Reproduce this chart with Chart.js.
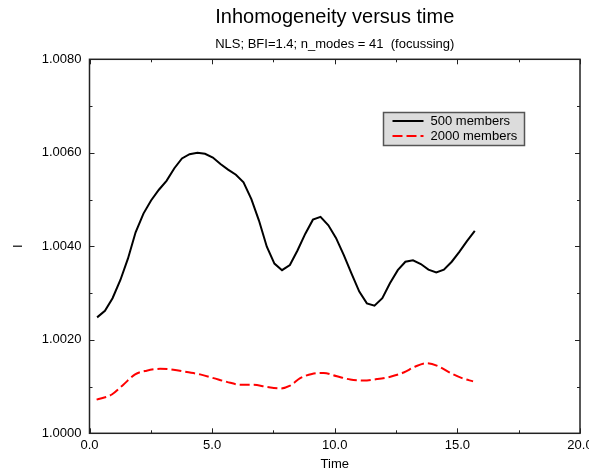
<!DOCTYPE html>
<html>
<head>
<meta charset="utf-8">
<script src="https://cdn.jsdelivr.net/npm/chart.js@4"></script>
<style>
  html, body { margin: 0; padding: 0; background: #fff; }
</style>
</head>
<body>
<canvas id="chart" width="589" height="472"></canvas>
<script>
// chart text
const titleText = 'Inhomogeneity versus time';
const subtitleText = 'NLS; BFI=1.4; n_modes = 41  (focussing)';
const xTitle = 'Time';
const yTitle = 'I';

// 500 members (black solid)
const times500 = [0.31, 0.63, 0.94, 1.26, 1.57, 1.88, 2.20, 2.51, 2.83, 3.14,
  3.46, 3.77, 4.08, 4.40, 4.71, 5.03, 5.34, 5.65, 5.97, 6.28,
  6.60, 6.91, 7.23, 7.54, 7.85, 8.17, 8.48, 8.80, 9.11, 9.42,
  9.74, 10.05, 10.37, 10.68, 11.00, 11.31, 11.62, 11.94, 12.25, 12.57,
  12.88, 13.19, 13.51, 13.82, 14.14, 14.45, 14.77, 15.08, 15.39, 15.71];
const inhom500 = [1.00248, 1.00262, 1.00289, 1.00328, 1.00374, 1.00430, 1.00470, 1.00498, 1.00521, 1.00540,
  1.00567, 1.00588, 1.00597, 1.00600, 1.00598, 1.00590, 1.00576, 1.00564, 1.00553, 1.00537,
  1.00501, 1.00455, 1.00399, 1.00363, 1.00349, 1.00360, 1.00391, 1.00427, 1.00457, 1.00463,
  1.00445, 1.00418, 1.00381, 1.00342, 1.00303, 1.00278, 1.00273, 1.00289, 1.00321, 1.00349,
  1.00367, 1.00370, 1.00362, 1.00350, 1.00344, 1.00350, 1.00367, 1.00388, 1.00411, 1.00433];

// 2000 members (red dashed)
const times2000 = [0.29, 0.91, 1.38, 1.86, 2.33, 2.88, 3.42, 3.97, 4.51, 5.06,
  5.60, 6.14, 6.69, 7.23, 7.78, 8.18, 8.59, 9.07, 9.55, 10.09,
  10.63, 11.18, 11.72, 12.27, 12.81, 13.29, 13.76, 14.24, 14.72, 15.19, 15.64];
const inhom2000 = [1.00072, 1.00083, 1.00104, 1.00126, 1.00134, 1.00138, 1.00136, 1.00131, 1.00126, 1.00118,
  1.00110, 1.00104, 1.00104, 1.00099, 1.00096, 1.00102, 1.00118, 1.00127, 1.00129, 1.00122,
  1.00115, 1.00113, 1.00116, 1.00121, 1.00130, 1.00143, 1.00150, 1.00143, 1.00129, 1.00118, 1.00111];

const seriesNames = ['500 members', '2000 members'];

// axis ranges / ticks
const xMin = 0, xMax = 20, xStep = 2.5, xLabelEvery = 5;
const yMin = 1.0, yMax = 1.008, yStep = 0.001, yLabelEvery = 0.002;

const FONT = '"Liberation Sans", Arial, Helvetica, sans-serif';
const AXIS_COLOR = '#222';

function toPoints(xs, ys) {
  return xs.map((x, i) => ({ x: x, y: ys[i] }));
}

// frame with inward ticks on all four sides, titles and legend box
const framePlugin = {
  id: 'frame',
  afterDraw(chart) {
    const ctx = chart.ctx;
    const a = chart.chartArea;
    const xs = chart.scales.x, ys = chart.scales.y;
    ctx.save();
    ctx.strokeStyle = AXIS_COLOR;
    ctx.lineWidth = 1.5;
    ctx.strokeRect(a.left, a.top, a.right - a.left, a.bottom - a.top);

    ctx.lineWidth = 1;
    ctx.beginPath();
    xs.ticks.forEach(t => {
      const px = Math.round(xs.getPixelForValue(t.value)) + 0.5;
      const len = t.label ? 5 : 3;
      ctx.moveTo(px, a.bottom); ctx.lineTo(px, a.bottom - len);
      ctx.moveTo(px, a.top); ctx.lineTo(px, a.top + len);
    });
    ys.ticks.forEach(t => {
      const py = Math.round(ys.getPixelForValue(t.value)) + 0.5;
      const len = t.label ? 5 : 3;
      ctx.moveTo(a.left, py); ctx.lineTo(a.left + len, py);
      ctx.moveTo(a.right, py); ctx.lineTo(a.right - len, py);
    });
    ctx.stroke();

    // titles
    ctx.fillStyle = '#000';
    ctx.textAlign = 'center';
    ctx.textBaseline = 'middle';
    const cx = (a.left + a.right) / 2;
    ctx.font = '20px ' + FONT;
    ctx.fillText(titleText, cx, 17);
    ctx.font = '13px ' + FONT;
    ctx.fillText(subtitleText, cx, 44);

    // legend
    const lx = 383.5, ly = 112.5, lw = 141, lh = 33;
    ctx.fillStyle = '#dcdcdc';
    ctx.fillRect(lx, ly, lw, lh);
    ctx.strokeStyle = '#555';
    ctx.lineWidth = 1.5;
    ctx.strokeRect(lx, ly, lw, lh);
    chart.data.datasets.forEach((ds, i) => {
      const yy = ly + 8.5 + i * 15;
      ctx.strokeStyle = ds.borderColor;
      ctx.lineWidth = 2;
      ctx.setLineDash(ds.borderDash || []);
      ctx.beginPath();
      ctx.moveTo(lx + 9, yy);
      ctx.lineTo(lx + 40, yy);
      ctx.stroke();
      ctx.setLineDash([]);
      ctx.fillStyle = '#000';
      ctx.textAlign = 'left';
      ctx.font = '13px ' + FONT;
      ctx.fillText(ds.label, lx + 47, yy);
    });
    ctx.restore();
  }
};

const config = {
  type: 'line',
  data: {
    datasets: [{
      label: seriesNames[0],
      data: toPoints(times500, inhom500),
      borderColor: '#000',
      borderWidth: 2,
      pointRadius: 0,
      tension: 0,
      fill: false
    }, {
      label: seriesNames[1],
      data: toPoints(times2000, inhom2000),
      borderColor: '#ff0000',
      borderWidth: 2,
      borderDash: [10, 4],
      pointRadius: 0,
      cubicInterpolationMode: 'monotone',
      fill: false
    }]
  },
  options: {
    responsive: false,
    animation: false,
    layout: { padding: { left: 0, right: 9, top: 59.3, bottom: 0 } },
    plugins: {
      legend: { display: false },
      title: { display: false },
      tooltip: { enabled: false }
    },
    scales: {
      x: {
        type: 'linear',
        min: xMin, max: xMax,
        grid: { display: false, drawTicks: false },
        border: { display: false },
        ticks: {
          stepSize: xStep,
          autoSkip: false,
          maxRotation: 0,
          padding: 4,
          color: '#000',
          font: { family: FONT, size: 13 },
          callback: v => (Math.abs(v / xLabelEvery - Math.round(v / xLabelEvery)) < 1e-6 ? v.toFixed(1) : '')
        },
        title: {
          display: true,
          text: xTitle,
          color: '#000',
          font: { family: FONT, size: 13 },
          padding: { top: 2, bottom: 0 }
        },
        afterFit: s => { s.height = 38.7; s.paddingLeft = 0; s.paddingRight = 0; }
      },
      y: {
        type: 'linear',
        min: yMin, max: yMax,
        grid: { display: false, drawTicks: false },
        border: { display: false },
        ticks: {
          stepSize: yStep,
          autoSkip: false,
          padding: 8,
          color: '#000',
          font: { family: FONT, size: 13 },
          callback: v => {
            const k = (v - yMin) / yLabelEvery;
            return Math.abs(k - Math.round(k)) < 1e-6 ? v.toFixed(4) : '';
          }
        },
        title: {
          display: true,
          text: yTitle,
          color: '#000',
          font: { family: FONT, size: 13 },
          padding: { top: 11, bottom: 0 }
        },
        afterFit: s => { s.width = 89.5; s.paddingTop = 0; s.paddingBottom = 0; }
      }
    }
  },
  plugins: [framePlugin]
};

new Chart(document.getElementById('chart'), config);
</script>
</body>
</html>
